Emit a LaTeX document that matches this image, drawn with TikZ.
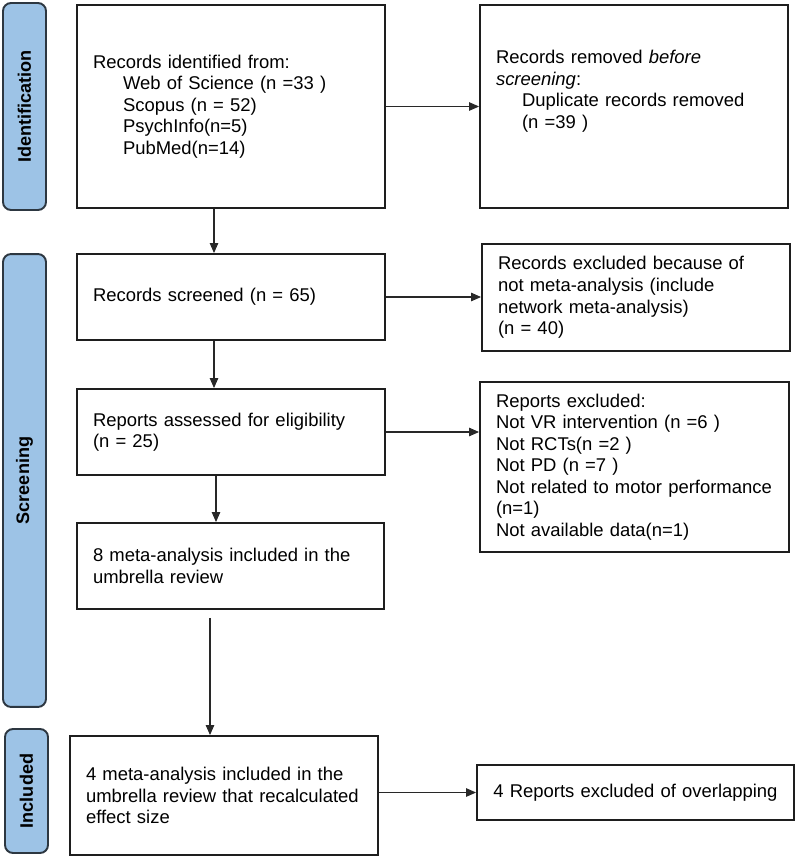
\documentclass[tikz,border=0pt]{standalone}
\usepackage{fontspec}
\setmainfont{Liberation Sans}
\usetikzlibrary{arrows.meta, positioning, calc}
\definecolor{phaseblue}{RGB}{157,195,230}
\definecolor{phaseline}{RGB}{45,55,65}
\tikzset{
	box/.style = {draw={rgb,255:red,30; green,30; blue,30}, line width=1.1pt, align=left,
		inner xsep=0.32cm, inner ysep=0pt, font=\fontsize{10.5}{12.25}\selectfont},
	phase/.style = {draw=phaseline, fill=phaseblue, line width=1.1pt, rounded corners=0.16cm,
		rotate=90, inner sep=0pt, font=\fontsize{10.3}{12}\selectfont\bfseries},
	flow/.style = {color={rgb,255:red,40; green,40; blue,40}, line width=0.6pt,
		-{Triangle[length=0.2cm, width=0.17cm]}}
}

\begin{document}
\begin{tikzpicture}[x=0.02cm, y=-0.02cm]
	\useasboundingbox (0,0) rectangle (797,859);
	
	% phases
	\node [phase, minimum width=4.14cm, minimum height=0.86cm] (identph) at (24.5,106.5) {Identification};
	\node [phase, minimum width=9.06cm, minimum height=0.86cm] (screenph) at (24.5,480.5) {Screening};
	\node [phase, minimum width=2.48cm, minimum height=0.86cm] (inclph) at (26.5,791) {Included};
	
	% left column
	\node [box, text width=5.52cm, minimum height=4.06cm] (identified) at (231,106.5)
		{Records identified from:\\
		\hspace*{0.6cm}Web of Science (n =33 )\\
		\hspace*{0.6cm}Scopus (n = 52)\\
		\hspace*{0.6cm}PsychInfo(n=5)\\
		\hspace*{0.6cm}PubMed(n=14)};
	\node [box, text width=5.52cm, minimum height=1.72cm] (screened) at (231,297)
		{Records screened (n = 65)};
	\node [box, text width=5.52cm, minimum height=1.72cm] (assessed) at (231,432)
		{Reports assessed for eligibility\\(n = 25)};
	\node [box, text width=5.50cm, minimum height=1.72cm] (meta8) at (230.5,566)
		{8 meta-analysis included in the\\umbrella review};
	\node [box, text width=5.52cm, minimum height=2.38cm] (meta4) at (224,795.5)
		{4 meta-analysis included in the\\umbrella review that recalculated\\effect size};
	
	% right column
	\node [box, text width=5.52cm, minimum height=4.06cm] (removed) at (634,106.5)
		{Records removed \emph{before}\\
		\emph{screening}:\\
		\hspace*{0.52cm}Duplicate records removed\\
		\hspace*{0.52cm}(n =39 )\\[0.25cm]\mbox{}};
	\node [box, text width=5.52cm, minimum height=2.14cm] (recexcl) at (636,297.5)
		{Records excluded because of\\not meta-analysis (include\\network meta-analysis)\\(n = 40)};
	\node [box, text width=5.54cm, minimum height=3.4cm] (repexcl) at (634.5,467)
		{Reports excluded:\\
		Not VR intervention (n =6 )\\
		Not RCTs(n =2 )\\
		Not PD (n =7 )\\
		Not related to motor performance\\
		(n=1)\\
		Not available data(n=1)};
	\node [box, align=center, text width=5.7cm, minimum height=1.1cm] (overlap) at (635.5,792.5)
		{4 Reports excluded of overlapping};
	
	% arrows
	\draw [flow] ([xshift=-0.34cm]identified.south) -- ([xshift=-0.34cm]identified.south |- screened.north);
	\draw [flow] ([xshift=-0.34cm]screened.south) -- ([xshift=-0.34cm]screened.south |- assessed.north);
	\draw [flow] ([xshift=-0.3cm]assessed.south) -- ([xshift=-0.3cm]assessed.south |- meta8.north);
	\draw [flow, shorten <=0.16cm] ([xshift=-0.41cm]meta8.south) -- ([xshift=-0.41cm]meta8.south |- meta4.north);
	
	\draw [flow] (identified.east) -- (identified.east -| removed.west);
	\draw [flow] (screened.east) -- (screened.east -| recexcl.west);
	\draw [flow] (assessed.east) -- (assessed.east -| repexcl.west);
	\draw [flow] (overlap.west -| meta4.east) -- (overlap.west);
\end{tikzpicture}
\end{document}
